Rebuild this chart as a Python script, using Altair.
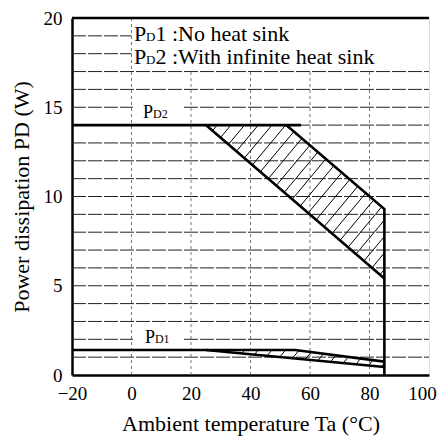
import altair as alt
import pandas as pd
import numpy as np

FONT = "Liberation Serif"

# axes
x_ticks = [-20, 0, 20, 40, 60, 80, 100]
y_ticks = [0, 5, 10, 15, 20]
x_domain = [-20, 100]
y_domain = [0, 20]

# grid
h_grid = list(range(1, 20))
v_grid = [0, 20, 40, 60, 80]
legend_box_x = 0      # legend box occupies x >= 0, y >= 17
legend_box_y = 17

# derating curves
pd2_flat_x, pd2_flat_y = [-20, 57], [14, 14]
pd2_upper_x, pd2_upper_y = [52, 85, 85], [14, 9.3, 0]
pd2_lower_x, pd2_lower_y = [25, 85], [14, 5.4]
pd1_upper_x, pd1_upper_y = [-20, 55, 85], [1.4, 1.4, 0.75]
pd1_lower_x, pd1_lower_y = [25, 85], [1.4, 0.45]

# legend / labels
legend_x = 0.8
legend_y = [18.7, 17.4]
legend_rest = ["1 :No heat sink", "2 :With infinite heat sink"]
curve_lbl_x = [3.9, 4.5]
curve_lbl_y = [14.38, 1.8]
curve_lbl_sub = ["D2", "D1"]
curve_lbl_box_y = [(14.7, 15.3), (1.7, 2.3)]
curve_lbl_box_x = (0.5, 17)

# hatch settings
hatch_slope = 0.2
hatch_step = 4.6

xs = alt.Scale(domain=x_domain, nice=False, zero=False)
ys = alt.Scale(domain=y_domain, nice=False, zero=False)
x_axis = alt.Axis(values=x_ticks, title="Ambient temperature Ta (°C)", grid=False, ticks=False,
                  labelPadding=9, titlePadding=10, domainWidth=2.5, domainColor="black",
                  labelFontSize=19, titleFontSize=22, labelFont=FONT, titleFont=FONT,
                  titleFontWeight="normal", labelColor="black", titleColor="black",
                  labelFlush=False, labelOverlap=False,
                  labelOffset=alt.condition("datum.value == 100", alt.value(-7), alt.value(0)))
y_axis = alt.Axis(values=y_ticks, title="Power dissipation PD (W)", grid=False, ticks=False,
                  labelPadding=10, titlePadding=10, domainWidth=2.5, domainColor="black",
                  labelFontSize=19, titleFontSize=22, labelFont=FONT, titleFont=FONT,
                  titleFontWeight="normal", labelColor="black", titleColor="black",
                  labelFlush=False, labelOverlap=False)

def X(f="x"):
    return alt.X(f"{f}:Q", scale=xs, axis=x_axis)

def Y(f="y"):
    return alt.Y(f"{f}:Q", scale=ys, axis=y_axis)

# grid rules
hg = pd.DataFrame({"y": h_grid, "x": [x_domain[0]] * len(h_grid),
                   "x2": [legend_box_x if v > legend_box_y else x_domain[1] for v in h_grid]})
vg = pd.DataFrame({"x": v_grid, "y": [y_domain[0]] * len(v_grid),
                   "y2": [y_domain[1] if v <= legend_box_x else legend_box_y for v in v_grid]})

h_layer = alt.Chart(hg).mark_rule(color="#222", strokeWidth=1, strokeDash=[14, 2]).encode(
    x=X(), x2="x2:Q", y=Y())
v_layer = alt.Chart(vg).mark_rule(color="#666", strokeWidth=0.9, strokeDash=[3, 3]).encode(
    x=X(), y=Y(), y2="y2:Q")

# top border
top_df = pd.DataFrame({"y": [y_domain[1]], "x": [x_domain[0]], "x2": [x_domain[1]]})
top_layer = alt.Chart(top_df).mark_rule(color="black", strokeWidth=2.5).encode(
    x=X(), x2="x2:Q", y=Y())

# white boxes behind curve labels
box_df = pd.DataFrame({"x": [curve_lbl_box_x[0]] * 2, "x2": [curve_lbl_box_x[1]] * 2,
                       "y": [b[0] for b in curve_lbl_box_y], "y2": [b[1] for b in curve_lbl_box_y]})
box_layer = alt.Chart(box_df).mark_rect(color="white").encode(x=X(), x2="x2:Q", y=Y(), y2="y2:Q")

# curves
rows = []
for name, xv, yv in [("pd2f", pd2_flat_x, pd2_flat_y), ("pd2u", pd2_upper_x, pd2_upper_y),
                     ("pd2l", pd2_lower_x, pd2_lower_y), ("pd1u", pd1_upper_x, pd1_upper_y),
                     ("pd1l", pd1_lower_x, pd1_lower_y)]:
    for i, (a, b) in enumerate(zip(xv, yv)):
        rows.append({"series": name, "order": i, "x": a, "y": b})
curves = pd.DataFrame(rows)
curve_layer = alt.Chart(curves).mark_line(color="black", strokeWidth=2.6, strokeJoin="miter").encode(
    x=X(), y=Y(), detail="series:N", order="order:Q")

# hatch segments between lower and upper bounds
def hatch(lx, ly, ux, uy, x0, x1):
    grid = np.linspace(x0, x1, 6001)
    L = np.interp(grid, lx, ly)
    U = np.interp(grid, ux, uy)
    segs = []
    c = x0 - max(uy) / hatch_slope - 10
    while c < x1 + 10:
        line = hatch_slope * (grid - c)
        dl = line - L
        du = line - U
        c += hatch_step
        if not (dl >= 0).any():
            continue
        il = int(np.argmax(dl >= 0))
        if il == 0 and dl[0] > 0 and du[0] >= 0:
            continue
        iu = int(np.argmax(du >= 0)) if (du >= 0).any() else len(grid) - 1
        if iu <= il:
            continue
        segs.append({"x": grid[il], "y": line[il], "x2": grid[iu], "y2": line[iu]})
    return segs

hatch_rows = hatch(pd2_lower_x, pd2_lower_y, [25] + pd2_upper_x[:2], [14] + pd2_upper_y[:2], 25, 85)
hatch_rows += hatch(pd1_lower_x, pd1_lower_y, pd1_upper_x, pd1_upper_y, 25, 85)
hatch_df = pd.DataFrame(hatch_rows)
hatch_layer = alt.Chart(hatch_df).mark_rule(color="black", strokeWidth=1).encode(
    x=X(), y=Y(), x2="x2:Q", y2="y2:Q")

# legend text
leg_df = pd.DataFrame({"x": [legend_x] * 2, "y": legend_y, "p": ["P"] * 2, "s": ["D"] * 2,
                       "rest": legend_rest})
leg_base = alt.Chart(leg_df)
leg_p = leg_base.mark_text(align="left", baseline="alphabetic", font=FONT, fontSize=22,
                           color="black").encode(x=X(), y=Y(), text="p:N")
leg_s = leg_base.mark_text(align="left", baseline="alphabetic", font=FONT, fontSize=13,
                           color="black", dx=12).encode(x=X(), y=Y(), text="s:N")
leg_r = leg_base.mark_text(align="left", baseline="alphabetic", font=FONT, fontSize=22,
                           color="black", dx=21.5).encode(x=X(), y=Y(), text="rest:N")

# curve labels
cl_df = pd.DataFrame({"x": curve_lbl_x, "y": curve_lbl_y, "p": ["P"] * 2, "s": curve_lbl_sub})
cl_base = alt.Chart(cl_df)
cl_p = cl_base.mark_text(align="left", baseline="alphabetic", font=FONT, fontSize=18,
                         color="black").encode(x=X(), y=Y(), text="p:N")
cl_s = cl_base.mark_text(align="left", baseline="alphabetic", font=FONT, fontSize=12,
                         color="black", dx=10).encode(x=X(), y=Y(), text="s:N")

chart = alt.layer(
    h_layer, v_layer, box_layer, hatch_layer, curve_layer, top_layer,
    leg_p, leg_s, leg_r, cl_p, cl_s
).properties(
    width=357, height=357,
    padding={"left": 64, "top": 10, "right": 9, "bottom": 62},
    autosize=alt.AutoSizeParams(type="none"),
).configure_view(stroke="black", strokeWidth=1.5).configure(background="white")

chart.save("out.html", embed_options={"renderer": "svg", "actions": False})
